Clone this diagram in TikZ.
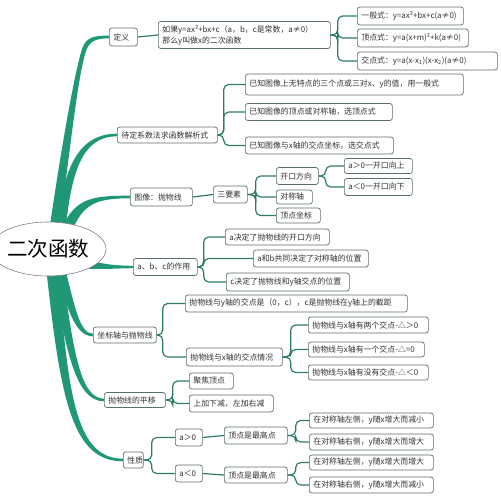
\documentclass[tikz,border=0pt]{standalone}
\usepackage{fontspec}
\setmainfont{Noto Sans CJK SC}
\usetikzlibrary{shapes.geometric,calc,backgrounds}
\definecolor{trunkc}{RGB}{32,152,118}
\definecolor{connc}{RGB}{46,125,98}
\definecolor{bordc}{RGB}{90,110,104}
\definecolor{txtc}{RGB}{50,50,50}
\newcommand\lb[2]{\makebox[#1pt][l]{#2}}
\begin{document}
\begin{tikzpicture}[x=1pt,y=-1pt,
  box/.style={draw=bordc, fill=white, rounded corners=2.5pt, line width=0.7pt, anchor=west, inner xsep=4pt, inner ysep=1pt, font=\fontsize{7.9}{11}\selectfont, text=txtc},
  conn/.style={draw=connc, line width=1.2pt, rounded corners=5pt},
  trunk/.style={fill=trunkc}]
\useasboundingbox (0,0) rectangle (500,502);

% root
\node[draw=gray, line width=0.6pt, fill=white, ellipse, minimum width=88, minimum height=54, inner sep=0pt, font=\fontsize{20.5}{20.5}\selectfont, text=black] (root) at (48,249) {二次函数};

% level 1
\node[box, minimum height=18] (def) at (109,37) {\lb{20}{定义}};
\node[box, minimum height=16] (dd) at (117,135) {\lb{92}{待定系数法求函数解析式}};
\node[box, minimum height=18] (tx) at (130,197) {\lb{54}{图像：抛物线}};
\node[box, minimum height=17] (ab) at (133,267) {\lb{56}{a、b、c的作用}};
\node[box, minimum height=16] (zb) at (93,335) {\lb{55}{坐标轴与抛物线}};
\node[box, minimum height=15] (py) at (104,400) {\lb{53}{抛物线的平移}};
\node[box, minimum height=16] (xz) at (123,460) {\lb{12}{性质}};

% 定义
\node[box, minimum height=27, text width=164, align=left] (ru) at (158,35) {如果y=ax²+bx+c（a，b，c是常数，a≠0）\\那么y叫做x的二次函数};
\node[box, minimum height=18] (f1) at (357,16) {\lb{98}{一般式：y=ax²+bx+c(a≠0)}};
\node[box, minimum height=18] (f2) at (357,38) {\lb{103}{顶点式：y=a(x+m)²+k(a≠0)}};
\node[box, minimum height=18] (f3) at (357,61) {\lb{132}{交点式：y=a(x-x\textsubscript{1})(x-x\textsubscript{2})(a≠0)}};

% 待定系数
\node[box, minimum height=21] (d1) at (245,84.5) {\lb{210}{已知图像上无特点的三个点或三对x、y的值，用一般式}};
\node[box, minimum height=17] (d2) at (245,112) {\lb{139}{已知图像的顶点或对称轴，选顶点式}};
\node[box, minimum height=17] (d3) at (245,145.5) {\lb{140}{已知图像与x轴的交点坐标，选交点式}};

% 图像
\node[box, minimum height=17] (sy) at (213,194.5) {\lb{26}{三要素}};
\node[box, minimum height=17] (k1) at (276,176) {\lb{34}{开口方向}};
\node[box, minimum height=14] (k2) at (276,197) {\lb{28}{对称轴}};
\node[box, minimum height=15] (k3) at (276,215.5) {\lb{36}{顶点坐标}};
\node[box, minimum height=15] (u1) at (344,166) {\lb{60}{a＞0一开口向上}};
\node[box, minimum height=17] (u2) at (344,187) {\lb{60}{a＜0一开口向下}};

% abc
\node[box, minimum height=16] (a1) at (225,237) {\lb{96}{a决定了抛物线的开口方向}};
\node[box, minimum height=17] (a2) at (253,258.5) {\lb{107}{a和b共同决定了对称轴的位置}};
\node[box, minimum height=18] (a3) at (226,282) {\lb{115}{c决定了抛物线和y轴交点的位置}};

% 坐标轴
\node[box, minimum height=17] (z1) at (185,303.5) {\lb{214}{抛物线与y轴的交点是（0，c），c是抛物线在y轴上的截距}};
\node[box, minimum height=18] (z2) at (186,357) {\lb{88}{抛物线与x轴的交点情况}};
\node[box, minimum height=16] (x1) at (308,325) {\lb{112}{抛物线与x轴有两个交点-△＞0}};
\node[box, minimum height=15] (x2) at (308,349.5) {\lb{108}{抛物线与x轴有一个交点-△=0}};
\node[box, minimum height=15] (x3) at (308,372.5) {\lb{112}{抛物线与x轴有没有交点-△＜0}};

% 平移
\node[box, minimum height=16] (p1) at (189,381) {\lb{36}{聚焦顶点}};
\node[box, minimum height=17] (p2) at (189,403.5) {\lb{76}{上加下减，左加右减}};

% 性质
\node[box, minimum height=17] (g1) at (175,437.5) {\lb{19}{a＞0}};
\node[box, minimum height=17] (g2) at (175,473.5) {\lb{19}{a＜0}};
\node[box, minimum height=17] (h1) at (224,435.5) {\lb{55}{顶点是最高点}};
\node[box, minimum height=16] (h2) at (224,475) {\lb{55}{顶点是最高点}};
\node[box, minimum height=15] (i1) at (309,420.5) {\lb{116}{在对称轴左侧，y随x增大而减小}};
\node[box, minimum height=16] (i2) at (309,442) {\lb{116}{在对称轴右侧，y随x增大而增大}};
\node[box, minimum height=15] (i3) at (309,462.5) {\lb{116}{在对称轴左侧，y随x增大而增大}};
\node[box, minimum height=16] (i4) at (309,485) {\lb{116}{在对称轴右侧，y随x增大而减小}};

% trunk branches
\begin{scope}[on background layer]
\fill[trunk] (50,225) .. controls (61,150) and (74,75) .. (82,49) .. controls (86,36.5) and (95,35.7) .. ($(def.west)+(0,-1.4)$) -- ($(def.west)+(0,1.4)$) .. controls (95,38.3) and (89.5,41.5) .. (86,51) .. controls (78,75) and (70,150) .. (60,225) -- cycle;
\fill[trunk] (57,225) .. controls (64,168) and (78,133.7) .. ($(dd.west)+(0,-1.3)$) -- ($(dd.west)+(0,1.3)$) .. controls (82,136.3) and (72,172) .. (66,225) -- cycle;
\fill[trunk] (63,226) .. controls (76,197) and (95,195.7) .. ($(tx.west)+(0,-1.3)$) -- ($(tx.west)+(0,1.3)$) .. controls (96,198.3) and (83,204) .. (72,231) -- cycle;
\fill[trunk] (80,258) .. controls (100,264) and (115,265.7) .. ($(ab.west)+(0,-1.2)$) -- ($(ab.west)+(0,1.2)$) .. controls (115,268.3) and (100,270) .. (80,268) -- cycle;
\fill[trunk] (57,272) .. controls (68,312) and (76,336.3) .. ($(zb.west)+(0,1.3)$) -- ($(zb.west)+(0,-1.3)$) .. controls (80,333.7) and (75,308) .. (66,272) -- cycle;
\fill[trunk] (53,275) .. controls (66,352) and (76,401.3) .. ($(py.west)+(0,1.3)$) -- ($(py.west)+(0,-1.3)$) .. controls (80,398.7) and (73,348) .. (63,275) -- cycle;
\fill[trunk] (47,276) .. controls (61,402) and (73,461.3) .. ($(xz.west)+(0,1.3)$) -- ($(xz.west)+(0,-1.3)$) .. controls (77,458.7) and (68,398) .. (59,276) -- cycle;
\end{scope}

% connectors
\draw[conn] (def.east) -- (ru.west);
\draw[conn] (ru.east) -- ++(7,0) |- (f1.west);
\draw[conn] (ru.east) -- ++(7,0) |- (f2.west);
\draw[conn] (ru.east) -- ++(7,0) |- (f3.west);
\draw[conn] (dd.east) -- ++(6,0) |- (d1.west);
\draw[conn] (dd.east) -- ++(6,0) |- (d2.west);
\draw[conn] (dd.east) -- ++(6,0) |- (d3.west);
\draw[conn] (tx.east) -- (sy.west);
\draw[conn] (sy.east) -- ++(8,0) |- (k1.west);
\draw[conn] (sy.east) -- ++(8,0) |- (k2.west);
\draw[conn] (sy.east) -- ++(8,0) |- (k3.west);
\draw[conn] (k1.east) -- ++(7,0) |- (u1.west);
\draw[conn] (k1.east) -- ++(7,0) |- (u2.west);
\draw[conn] (ab.east) -- ++(6,0) |- (a1.west);
\draw[conn] (ab.east) -- ++(6,0) |- (a2.west);
\draw[conn] (ab.east) -- ++(6,0) |- (a3.west);
\draw[conn] (zb.east) -- ++(6,0) |- (z1.west);
\draw[conn] (zb.east) -- ++(6,0) |- (z2.west);
\draw[conn] (z2.east) -- ++(8,0) |- (x1.west);
\draw[conn] (z2.east) -- ++(8,0) |- (x2.west);
\draw[conn] (z2.east) -- ++(8,0) |- (x3.west);
\draw[conn] (py.east) -- ++(7,0) |- (p1.west);
\draw[conn] (py.east) -- ++(7,0) |- (p2.west);
\draw[conn] (xz.east) -- ++(8,0) |- (g1.west);
\draw[conn] (xz.east) -- ++(8,0) |- (g2.west);
\draw[conn] (g1.east) -- (h1.west);
\draw[conn] (g2.east) -- (h2.west);
\draw[conn] (h1.east) -- ++(8,0) |- (i1.west);
\draw[conn] (h1.east) -- ++(8,0) |- (i2.west);
\draw[conn] (h2.east) -- ++(8,0) |- (i3.west);
\draw[conn] (h2.east) -- ++(8,0) |- (i4.west);
\end{tikzpicture}
\end{document}
